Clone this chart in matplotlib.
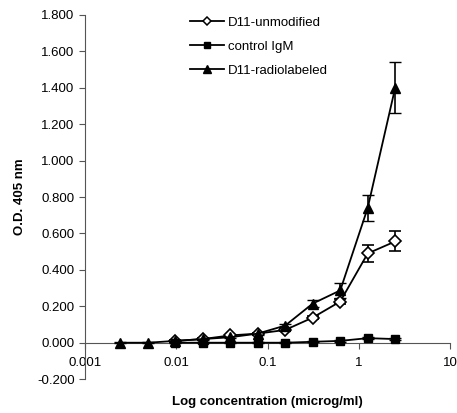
import matplotlib
matplotlib.use("Agg")
import matplotlib.pyplot as plt
from matplotlib.lines import Line2D
from matplotlib.ticker import FixedLocator, FixedFormatter

plt.rcParams['font.family'] = ['Liberation Sans', 'DejaVu Sans']

# concentrations (microg/ml)
conc_all = [0.00244, 0.0049, 0.0098, 0.0195, 0.039, 0.078, 0.156, 0.3125, 0.625, 1.25, 2.5]
conc = conc_all[2:]

unmod = [0.010, 0.020, 0.040, 0.050, 0.070, 0.138, 0.226, 0.490, 0.556]
unmod_err = [0.005, 0.005, 0.005, 0.005, 0.008, 0.010, 0.015, 0.048, 0.055]

ctrl = [0.000, 0.000, 0.000, 0.000, 0.000, 0.005, 0.010, 0.025, 0.020]
ctrl_err = [0.002, 0.002, 0.002, 0.002, 0.002, 0.003, 0.004, 0.005, 0.005]

radio = [0.000, 0.000, 0.010, 0.020, 0.030, 0.050, 0.094, 0.215, 0.287, 0.740, 1.400]
radio_err = [0.002, 0.002, 0.004, 0.004, 0.005, 0.006, 0.010, 0.020, 0.040, 0.070, 0.140]

labels = ['D11-unmodified', 'control IgM', 'D11-radiolabeled']

fig = plt.figure(figsize=(4.57, 4.13), dpi=100)
ax = fig.add_axes([0.186, 0.082, 0.799, 0.882])

ax.errorbar(conc, unmod, yerr=unmod_err, color='black', lw=1.3, marker='D', ms=6,
            mfc='white', mec='black', mew=1.2, capsize=4, elinewidth=1.2, zorder=3)
ax.errorbar(conc, ctrl, yerr=ctrl_err, color='black', lw=1.3, marker='s', ms=6,
            capsize=4, elinewidth=1.2, zorder=3)
ax.errorbar(conc_all, radio, yerr=radio_err, color='black', lw=1.3, marker='^', ms=7,
            capsize=4, elinewidth=1.2, zorder=3)

ax.set_xscale('log')
ax.set_xlim(0.001, 10)
ax.set_ylim(-0.2, 1.8)

ax.spines['top'].set_visible(False)
ax.spines['right'].set_visible(False)
ax.spines['bottom'].set_position(('data', 0))
ax.spines['left'].set_color('#555555')
ax.spines['bottom'].set_color('#555555')

yt = [-0.2, 0.0, 0.2, 0.4, 0.6, 0.8, 1.0, 1.2, 1.4, 1.6, 1.8]
ax.yaxis.set_major_locator(FixedLocator(yt))
ax.yaxis.set_major_formatter(FixedFormatter(['%.3f' % v for v in yt]))
xt = [0.001, 0.01, 0.1, 1, 10]
ax.xaxis.set_major_locator(FixedLocator(xt))
ax.xaxis.set_major_formatter(FixedFormatter(['0.001', '0.01', '0.1', '1', '10']))
ax.xaxis.set_minor_locator(FixedLocator([]))
ax.tick_params(axis='both', labelsize=9.5, length=4, width=0.8, color='#555555', direction='out')
ax.tick_params(axis='x', pad=6)

ax.set_ylabel('O.D. 405 nm', fontsize=9.5, fontweight='bold', labelpad=8)
fig.text(0.585, 0.027, 'Log concentration (microg/ml)', fontsize=9.5,
         fontweight='bold', ha='center', va='center')

handles = [
    Line2D([], [], color='black', lw=1.3, marker='D', ms=4.5, mfc='white', mew=1.1),
    Line2D([], [], color='black', lw=1.3, marker='s', ms=5),
    Line2D([], [], color='black', lw=1.3, marker='^', ms=6),
]
ax.legend(handles, labels, loc='upper left', bbox_to_anchor=(0.255, 1.028), frameon=False,
          fontsize=9.5, handlelength=2.6, labelspacing=0.9, handletextpad=0.3)

fig.savefig('out.png', dpi=100)
